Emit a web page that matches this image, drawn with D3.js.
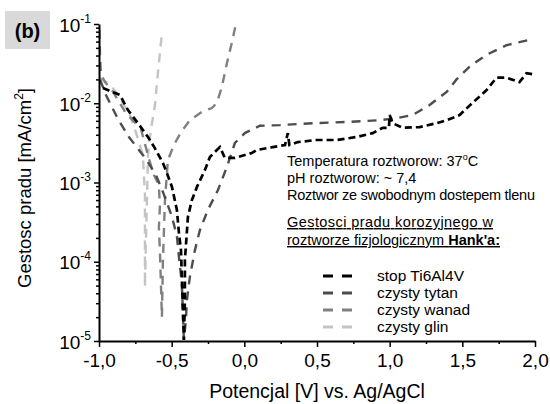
<!DOCTYPE html>
<html>
<head>
<meta charset="utf-8">
<script src="https://cdn.jsdelivr.net/npm/d3@7"></script>
<style>
  body { margin: 0; background: #fff; }
  text { font-family: "Liberation Sans", Arial, sans-serif; }
</style>
</head>
<body>
<div id="chart"></div>
<script>
// potential [V] and current density [mA/cm2]
const stopE = [-0.973,-0.856,-0.801,-0.732,-0.663,-0.615,-0.560,-0.533,-0.498,-0.464,-0.450,-0.436,-0.430,-0.423,-0.416,-0.409,-0.409,-0.388,-0.361,-0.326,-0.271,-0.237,-0.168,-0.134,-0.065,0.052,0.086,0.196,0.280,0.299,0.310,0.368,0.498,0.636,0.773,0.883,0.952,0.995,1.000,1.021,1.089,1.206,1.323,1.392,1.481,1.570,1.667,1.735,1.804,1.893,1.942,1.997];
const stopI = [1.56e-2,1.27e-2,8.2e-3,5.6e-3,3.75e-3,2.7e-3,1.76e-3,1.32e-3,8.8e-4,4.5e-4,2.3e-4,1.4e-4,6.4e-5,2.5e-5,1.03e-5,3.3e-5,1.05e-4,3.7e-4,6.0e-4,8.8e-4,1.44e-3,2.1e-3,2.8e-3,2.04e-3,2.04e-3,2.36e-3,2.57e-3,2.8e-3,2.97e-3,4.2e-3,2.97e-3,3.24e-3,3.44e-3,3.44e-3,3.75e-3,4.2e-3,4.9e-3,4.9e-3,7.1e-3,5.6e-3,4.9e-3,5.0e-3,5.6e-3,6.1e-3,7.1e-3,1.01e-2,1.47e-2,2.1e-2,2.1e-2,1.85e-2,2.4e-2,2.3e-2];

const tytanE = [-0.993,-0.952,-0.869,-0.794,-0.677,-0.608,-0.560,-0.498,-0.464,-0.450,-0.430,-0.416,-0.402,-0.395,-0.375,-0.340,-0.306,-0.251,-0.182,-0.120,-0.065,0.003,0.107,0.244,0.471,0.704,0.931,1.048,1.158,1.275,1.392,1.460,1.550,1.667,1.804,1.960];
const tytanI = [2.0e-2,1.27e-2,6.3e-3,3.75e-3,1.98e-3,1.24e-3,7.6e-4,3.7e-4,2.1e-4,1.15e-4,5.4e-5,1.03e-5,1.84e-5,3.3e-5,6.4e-5,1.4e-4,2.5e-4,4.5e-4,8.0e-4,1.57e-3,3.15e-3,4.2e-3,5.2e-3,5.3e-3,5.6e-3,5.8e-3,6.1e-3,6.5e-3,7.1e-3,9.5e-3,1.39e-2,2.0e-2,2.9e-2,4.1e-2,5.4e-2,6.3e-2];

const wanadE = [-0.997,-0.993,-0.986,-0.959,-0.911,-0.821,-0.711,-0.656,-0.622,-0.588,-0.581,-0.588,-0.581,-0.574,-0.567,-0.560,-0.546,-0.526,-0.485,-0.436,-0.375,-0.292,-0.223,-0.189,-0.155,-0.120,-0.086,-0.058];
const wanadI = [8.4e-2,4.1e-2,2.3e-2,1.85e-2,1.47e-2,7.8e-3,4.7e-3,1.98e-3,1.24e-3,9.3e-4,4.9e-4,2.7e-4,1.4e-4,5.4e-5,2.0e-5,1.05e-4,6.0e-4,1.92e-3,2.97e-3,4.3e-3,6.1e-3,7.8e-3,8.7e-3,1.01e-2,1.6e-2,3.2e-2,5.8e-2,1.0e-1];

const glinE = [-0.993,-0.931,-0.883,-0.849,-0.787,-0.746,-0.698,-0.691,-0.684,-0.684,-0.684,-0.677,-0.670,-0.663,-0.643,-0.615,-0.594,-0.567];
const glinI = [2.1e-2,1.75e-2,1.39e-2,1.1e-2,7.1e-3,4.3e-3,2.22e-3,1.24e-3,7.0e-4,1.9e-4,4.8e-5,1.9e-4,6.0e-4,2.22e-3,4.6e-3,9.5e-3,2.48e-2,7.7e-2];

const seriesNames = ['stop Ti6Al4V', 'czysty tytan', 'czysty wanad', 'czysty glin'];
const xTicks = [-1, -0.5, 0, 0.5, 1, 1.5, 2];
const yTicks = [1e-5, 1e-4, 1e-3, 1e-2, 1e-1];
const yExponents = ['-5', '-4', '-3', '-2', '-1'];

const W = 550, H = 404;
const margin = {top: 24, right: 15, bottom: 63, left: 99};

const svg = d3.select('#chart').append('svg')
    .attr('width', W).attr('height', H);

const x = d3.scaleLinear().domain([-1, 2]).range([margin.left, W - margin.right]);
const y = d3.scaleLog().domain([1e-5, 1e-1]).range([H - margin.bottom, margin.top]);

svg.append('clipPath').attr('id', 'plotclip')
  .append('rect')
    .attr('x', margin.left).attr('y', margin.top)
    .attr('width', W - margin.left - margin.right)
    .attr('height', H - margin.top - margin.bottom);

function zipSeries(es, is) {
    return es.map((e, i) => [e, is[i]]);
}

let series = [
    {name: seriesNames[3], pts: zipSeries(glinE, glinI), color: '#c4c4c4', width: 2.4, dash: '9,7'},
    {name: seriesNames[2], pts: zipSeries(wanadE, wanadI), color: '#808080', width: 2.4, dash: '9,7'},
    {name: seriesNames[1], pts: zipSeries(tytanE, tytanI), color: '#4d4d4d', width: 2.4, dash: '9,7'},
    {name: seriesNames[0], pts: zipSeries(stopE, stopI), color: '#000000', width: 2.7, dash: '7,4'}
];

let line = d3.line()
    .x(d => x(d[0]))
    .y(d => y(d[1]));

svg.append('g').attr('clip-path', 'url(#plotclip)')
  .selectAll('path')
  .data(series)
  .enter().append('path')
    .attr('d', d => line(d.pts))
    .attr('fill', 'none')
    .attr('stroke', d => d.color)
    .attr('stroke-width', d => d.width)
    .attr('stroke-dasharray', d => d.dash);

// x axis
let fmtX = v => d3.format('.1f')(v).replace('.', ',').replace('\u2212', '-');

let xMinor = svg.append('g')
    .attr('transform', `translate(0,${H - margin.bottom})`)
    .call(d3.axisBottom(x).tickValues(d3.range(-0.75, 2, 0.5)).tickSize(3).tickFormat(''));
xMinor.select('.domain').remove();

let xAxis = svg.append('g')
    .attr('transform', `translate(0,${H - margin.bottom})`)
    .call(d3.axisBottom(x).tickValues(xTicks).tickSize(6).tickSizeOuter(0).tickFormat(fmtX));
xAxis.selectAll('text')
    .attr('font-size', 19)
    .attr('font-family', '"Liberation Sans", Arial, sans-serif')
    .attr('fill', '#000')
    .attr('dy', null)
    .attr('y', 26);

// y axis
let yMinorVals = [];
for (let dec = -5; dec < -1; dec++) {
    for (let m = 2; m <= 9; m++) yMinorVals.push(m * Math.pow(10, dec));
}
let yMinor = svg.append('g')
    .attr('transform', `translate(${margin.left},0)`)
    .call(d3.axisLeft(y).tickValues(yMinorVals).tickSize(3).tickFormat(''));
yMinor.select('.domain').remove();

let yAxis = svg.append('g')
    .attr('transform', `translate(${margin.left},0)`)
    .call(d3.axisLeft(y).tickValues(yTicks).tickSize(5).tickSizeOuter(0).tickFormat(''));

yAxis.selectAll('.tick').each(function(d, i) {
    let t = d3.select(this).append('text')
        .attr('x', -8).attr('y', 7)
        .attr('text-anchor', 'end')
        .attr('fill', '#000')
        .attr('font-size', 19)
        .attr('font-family', '"Liberation Sans", Arial, sans-serif');
    t.append('tspan').text('10');
    t.append('tspan').attr('font-size', 12).attr('dy', -9).text(yExponents[i]);
});

svg.selectAll('.domain').attr('stroke-width', 2);
svg.selectAll('.tick line').attr('stroke-width', 1.5);

// axis titles
svg.append('text')
    .attr('x', 317).attr('y', 398)
    .attr('text-anchor', 'middle')
    .attr('font-size', 19.5)
    .text('Potencjal [V] vs. Ag/AgCl');

let yt = svg.append('text')
    .attr('transform', 'translate(31,188) rotate(-90)')
    .attr('text-anchor', 'middle')
    .attr('font-size', 18.5);
yt.append('tspan').text('Gestosc pradu [mA/cm');
yt.append('tspan').attr('font-size', 12).attr('dy', -8).text('2');
yt.append('tspan').attr('dy', 8).text(']');

// panel label
svg.append('rect')
    .attr('x', 5).attr('y', 11).attr('width', 45).attr('height', 38)
    .attr('fill', '#d9d9d9');
svg.append('text')
    .attr('x', 27.5).attr('y', 38)
    .attr('text-anchor', 'middle')
    .attr('font-size', 20).attr('font-weight', 'bold')
    .text('(b)');

// annotation
let note = svg.append('g').attr('font-size', 14.5);
let t1 = note.append('text').attr('x', 287).attr('y', 166);
t1.append('tspan').text('Temperatura roztworow: 37');
t1.append('tspan').attr('font-size', 9).attr('dy', -6).text('o');
t1.append('tspan').attr('dy', 6).text('C');
note.append('text').attr('x', 287).attr('y', 183).text('pH roztworow: ~ 7,4');
note.append('text').attr('x', 287).attr('y', 200)
    .attr('textLength', 248).attr('lengthAdjust', 'spacing')
    .text('Roztwor ze swobodnym dostepem tlenu');
note.append('text').attr('x', 287).attr('y', 227)
    .attr('text-decoration', 'underline')
    .attr('textLength', 206).attr('lengthAdjust', 'spacing')
    .text('Gestosci pradu korozyjnego w ');
let t5 = note.append('text').attr('x', 287).attr('y', 245)
    .attr('text-decoration', 'underline');
t5.append('tspan').text('roztworze fizjologicznym ');
t5.append('tspan').attr('font-weight', 'bold').text("Hank'a:");

// legend
let legendOrder = series.slice().reverse();
let leg = svg.append('g').selectAll('g')
    .data(legendOrder)
    .enter().append('g')
    .attr('transform', (d, i) => `translate(0,${276 + i * 17})`);
leg.append('line')
    .attr('x1', 323).attr('x2', 352)
    .attr('stroke', d => d.color)
    .attr('stroke-width', 3)
    .attr('stroke-dasharray', '10,9');
leg.append('text')
    .attr('x', 377).attr('y', 5)
    .attr('font-size', 15.5)
    .text(d => d.name);
</script>
</body>
</html>
